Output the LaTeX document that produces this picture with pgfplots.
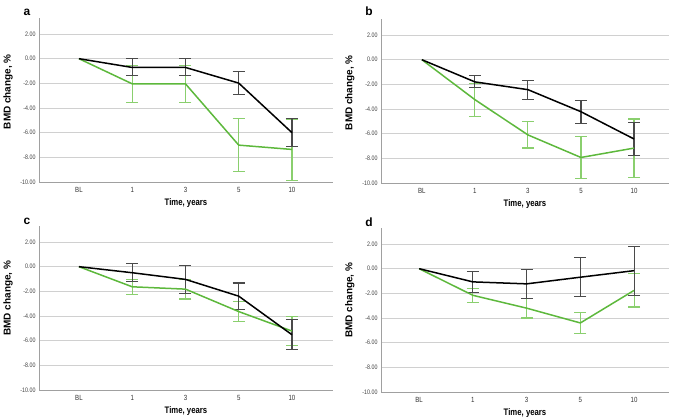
\documentclass[border=0pt]{standalone}
\usepackage{pgfplots}
\pgfplotsset{compat=1.18}
\usepackage{fontspec}
\setmainfont{Liberation Sans}
\newfontfamily\narrowfont{Liberation Sans}[FakeStretch=0.82]
\definecolor{lgreen}{HTML}{5DB83C}
\definecolor{egreen}{HTML}{8ACF6E}
\definecolor{egray}{HTML}{4A4A4A}
\definecolor{gridc}{HTML}{D0D0D0}
\definecolor{spine}{HTML}{A0A0A0}
\pgfplotsset{
  panel/.style={
    scale only axis, height=164bp,
    ymin=-10, ymax=3.3,
    axis lines=left,
    axis line style={-, spine, line width=0.8bp},
    ymajorgrids, grid style={gridc, line width=0.8bp},
    xtick={0,...,4}, xticklabels={BL,1,3,5,10},
    ytick={-10,-8,...,2},
    yticklabels={-10.00,-8.00,-6.00,-4.00,-2.00,0.00,2.00},
    major tick length=0pt,
    xticklabel style={font=\narrowfont\fontsize{7.5}{8}\selectfont, text=black!80, yshift=-2bp},
    yticklabel style={font=\narrowfont\fontsize{6.5}{7}\selectfont, text=black!75},
    xlabel={Time, years},
    ylabel={BMD change, \%},
    xlabel style={at={(axis description cs:0.5,-0.128)}, anchor=center, font=\narrowfont\bfseries\fontsize{9.5}{10}\selectfont},
    ylabel style={anchor=center, font=\bfseries\fontsize{10}{11}\selectfont},
    title style={anchor=center, yshift=0pt, font=\bfseries\fontsize{12}{13}\selectfont},
  },
  blk/.style={black, line width=1.5bp, mark=none},
  grn/.style={lgreen, line width=1.5bp, mark=none},
  blkerr/.style={draw=none, mark=none, forget plot,
    error bars/.cd, y dir=both, y explicit,
    error bar style={draw=egray, line width=1.1bp},
    error mark options={rotate=90, draw=egray, line width=1.1bp, mark size=6bp}},
  grnerr/.style={draw=none, mark=none, forget plot,
    error bars/.cd, y dir=both, y explicit,
    error bar style={draw=egreen, line width=1.1bp},
    error mark options={rotate=90, draw=egreen, line width=1.1bp, mark size=6bp}},
}
\begin{document}
\begin{tikzpicture}
\useasboundingbox (0,0) rectangle (676bp,420bp);
% ---------- a
\begin{axis}[panel, at={(39bp,238bp)}, anchor=south west, width=294bp,
  xmin=-0.75, xmax=4.77,
  ylabel style={at={(axis description cs:-0.105,0.55)}},
  title={a}, title style={at={(axis description cs:-0.041,1.0)}}]
\addplot[grnerr] coordinates {(1,-2.04) +- (0,1.49) (2,-2.04) +- (0,1.49) (3,-7.01) +- (0,2.17) (4,-7.36) += (0,2.47) -= (0,2.5)};
\addplot[blkerr] coordinates {(1,-0.71) += (0,0.71) -= (0,0.65) (2,-0.71) += (0,0.71) -= (0,0.65) (3,-1.98) +- (0,0.95) (4,-6.0) += (0,1.12) -= (0,1.15)};
\addplot[grn] coordinates {(0,0) (1,-2.04) (2,-2.04) (3,-7.01) (4,-7.36)};
\addplot[blk] coordinates {(0,0) (1,-0.71) (2,-0.71) (3,-1.98) (4,-6.0)};
\end{axis}
% ---------- b
\begin{axis}[panel, at={(381bp,237bp)}, anchor=south west, width=288bp,
  xmin=-0.77, xmax=4.66,
  ylabel style={at={(axis description cs:-0.108,0.55)}},
  title={b}, title style={at={(axis description cs:-0.042,1.01)}}]
\addplot[grnerr] coordinates {(1,-3.24) += (0,1.28) -= (0,1.36) (2,-6.10) +- (0,1.06) (3,-7.93) +- (0,1.69) (4,-7.17) +- (0,2.36)};
\addplot[blkerr] coordinates {(1,-1.80) += (0,0.52) -= (0,0.49) (2,-2.43) +- (0,0.77) (3,-4.22) +- (0,0.94) (4,-6.43) +- (0,1.32)};
\addplot[grn] coordinates {(0,0) (1,-3.24) (2,-6.10) (3,-7.93) (4,-7.17)};
\addplot[blk] coordinates {(0,0) (1,-1.80) (2,-2.43) (3,-4.22) (4,-6.43)};
\end{axis}
% ---------- c
\begin{axis}[panel, at={(39bp,30bp)}, anchor=south west, width=294bp,
  xmin=-0.75, xmax=4.77,
  ylabel style={at={(axis description cs:-0.105,0.56)}},
  title={c}, title style={at={(axis description cs:-0.041,0.99)}}]
\addplot[grnerr] coordinates {(1,-1.63) +- (0,0.61) (2,-1.82) +- (0,0.80) (3,-3.64) +- (0,0.79) (4,-5.22) +- (0,1.20)};
\addplot[blkerr] coordinates {(1,-0.49) +- (0,0.73) (2,-1.03) +- (0,1.14) (3,-2.39) +- (0,1.07) (4,-5.52) +- (0,1.22)};
\addplot[grn] coordinates {(0,0) (1,-1.63) (2,-1.82) (3,-3.64) (4,-5.22)};
\addplot[blk] coordinates {(0,0) (1,-0.49) (2,-1.03) (3,-2.39) (4,-5.52)};
\end{axis}
% ---------- d
\begin{axis}[panel, at={(381bp,28bp)}, anchor=south west, width=288bp,
  xmin=-0.71, xmax=4.65,
  ylabel style={at={(axis description cs:-0.108,0.56)}},
  title={d}, title style={at={(axis description cs:-0.042,1.0)}}]
\addplot[grnerr] coordinates {(1,-2.16) +- (0,0.56) (2,-3.20) +- (0,0.80) (3,-4.40) +- (0,0.83) (4,-1.76) +- (0,1.35)};
\addplot[blkerr] coordinates {(1,-1.07) +- (0,0.84) (2,-1.23) +- (0,1.17) (3,-0.69) +- (0,1.58) (4,-0.16) +- (0,1.99)};
\addplot[grn] coordinates {(0,0) (1,-2.16) (2,-3.20) (3,-4.40) (4,-1.76)};
\addplot[blk] coordinates {(0,0) (1,-1.07) (2,-1.23) (3,-0.69) (4,-0.16)};
\end{axis}
\end{tikzpicture}
\end{document}
